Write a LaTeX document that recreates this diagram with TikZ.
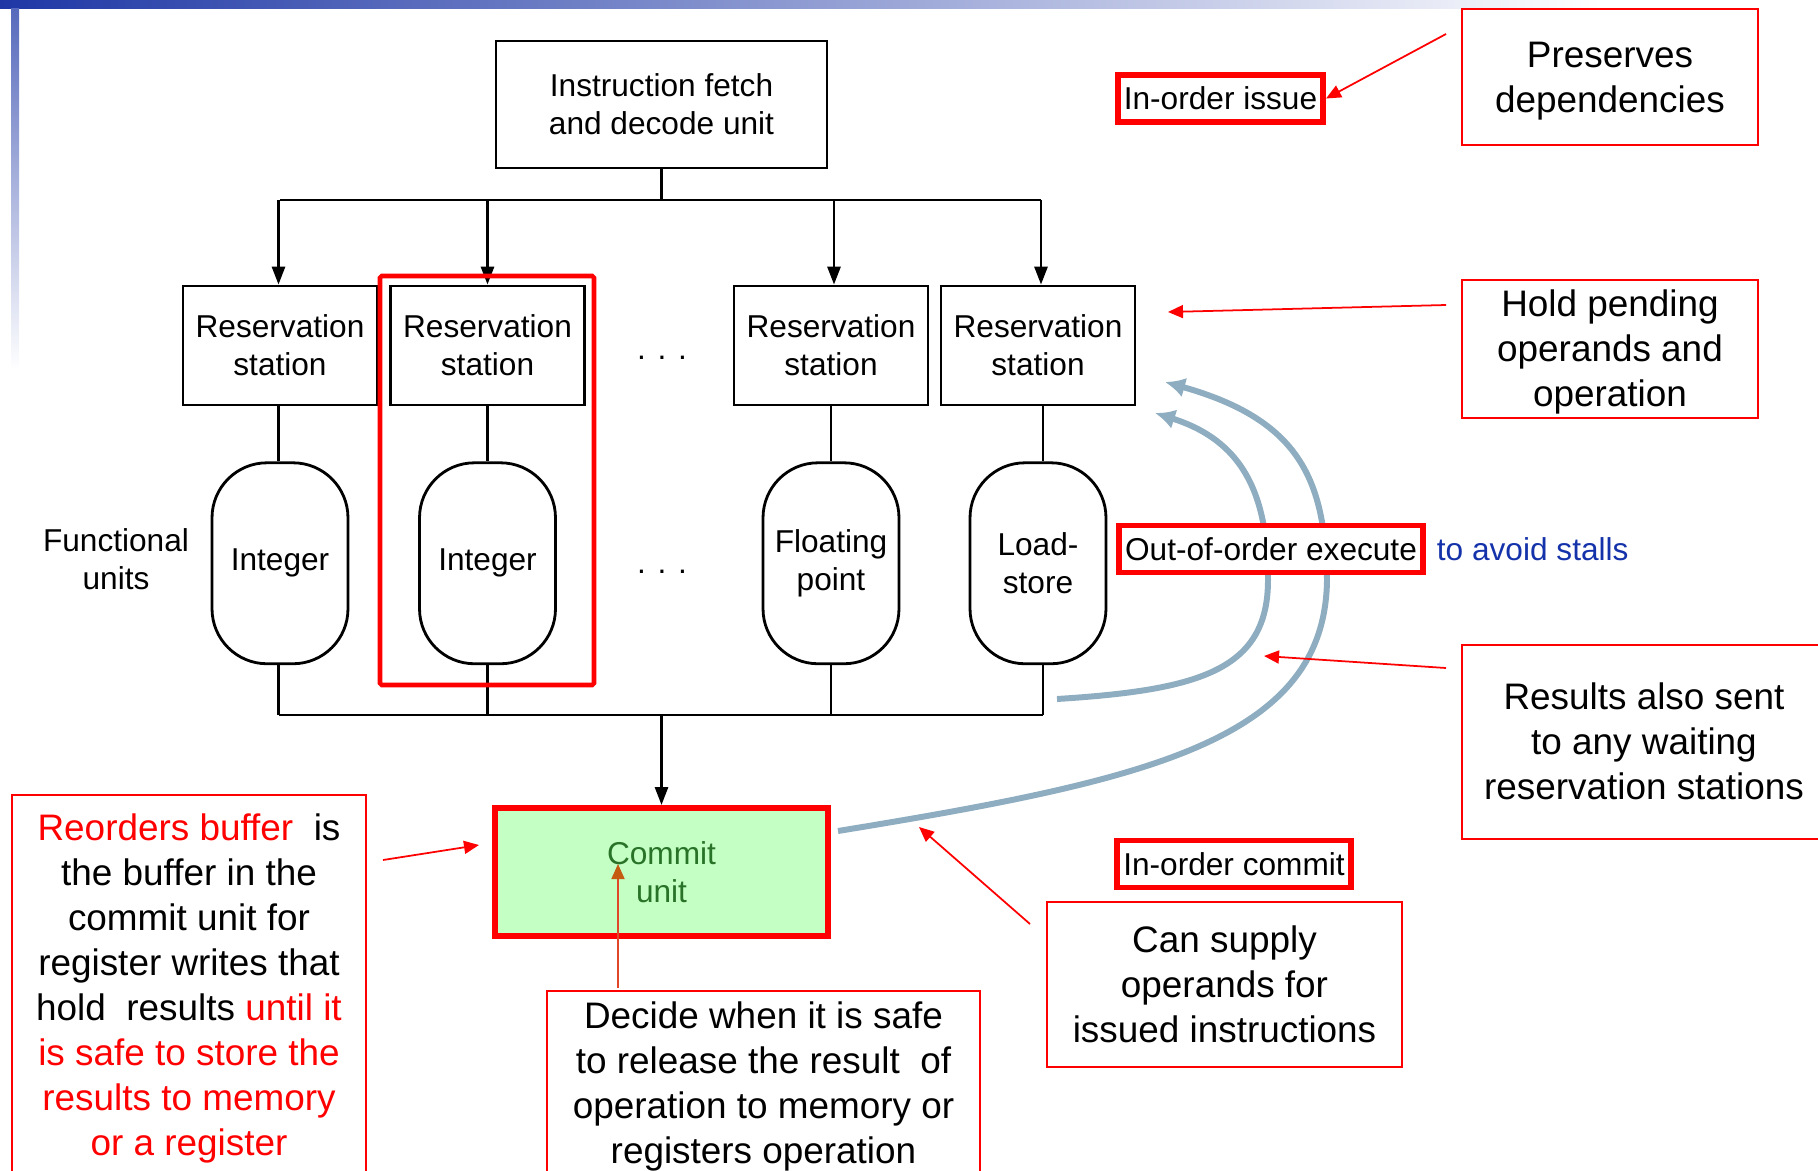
\documentclass[tikz,border=0pt]{standalone}
\usepackage{fontspec}
\setmainfont{Liberation Sans}
\usepackage{xcolor}
\usepackage{tikz}
\usetikzlibrary{arrows.meta,positioning,calc}
\definecolor{fwdblue}{RGB}{143,173,192}
\definecolor{barblue}{RGB}{30,55,165}
\definecolor{commitfill}{RGB}{196,255,196}
\definecolor{commitgreen}{RGB}{40,115,40}
\definecolor{stallblue}{RGB}{20,50,170}
\definecolor{tipbrown}{RGB}{197,90,17}
\definecolor{decidered}{RGB}{225,70,40}
\newcommand{\diagfont}{\fontsize{18}{21.6}\selectfont}
\newcommand{\notefont}{\fontsize{21}{25.6}\selectfont}
\newcommand{\notetop}{\rule{0pt}{0.905em}}
\tikzset{
  unit/.style={draw, line width=1.6pt, align=center, font=\diagfont, inner sep=2pt},
  rsbox/.style={unit, minimum width=3.88cm, minimum height=2.38cm},
  fubox/.style={unit, rounded corners=1.1cm, minimum width=2.72cm, minimum height=4.02cm},
  tag/.style={draw=red, line width=3.2pt, fill=white, font=\diagfont,
              inner xsep=1.2mm, inner ysep=0pt, minimum height=0.94cm},
  notebox/.style={draw=red, line width=1.2pt, align=center, font=\notefont, inner sep=2pt,
                  execute at end node={\rule[-0.212em]{0pt}{0pt}}},
  wire/.style={line width=1.6pt},
  flow/.style={wire, -{Triangle[length=3.6mm, width=2.6mm]}},
  note/.style={red, line width=1pt, -{Triangle[length=3mm, width=2.6mm]}},
  fwd/.style={fwdblue, line width=3.4pt, -{Latex[length=4mm, width=4mm]}},
}

\begin{document}
\begin{tikzpicture}[x=0.02cm, y=-0.02cm, node distance=1.1cm]
  \useasboundingbox (0,0) rectangle (1818,1170);
  % slide decoration
  \shade[left color=barblue, right color=white] (0,0) rectangle (1600,8);
  \shade[top color=barblue!75, bottom color=white] (11,8) rectangle (19,370);

  % issue and execution units
  \node[unit, minimum width=6.62cm, minimum height=2.54cm] (fetch) at (661.5,104.5)
       {Instruction fetch\\and decode unit};
  \node[rsbox] (rs1) at (280,345.5) {Reservation\\station};
  \node[rsbox] (rs2) at (487.5,345.5) {Reservation\\station};
  \node[rsbox] (rs3) at (831,345.5) {Reservation\\station};
  \node[rsbox] (rs4) at (1038,345.5) {Reservation\\station};
  \node[fubox, below=of rs1] (fu1) {Integer};
  \node[fubox, below=of rs2] (fu2) {Integer};
  \node[fubox, below=of rs3] (fu3) {Floating\\point};
  \node[fubox, below=of rs4] (fu4) {Load-\\store};
  \node[font=\diagfont] (dotsrs) at (662,358) {. . .};
  \node[font=\diagfont] (dotsfu) at (662,572) {. . .};
  \node[font=\diagfont, align=center] (fulabel) at (116,559) {Functional\\units};
  \node[unit, draw=red, line width=3.4pt, fill=commitfill, text=commitgreen,
        minimum width=6.66cm, minimum height=2.56cm] (commit) at (661.5,872) {Commit\\unit};

  \coordinate (topbus) at (661.5,200);
  \coordinate (botbus) at (661.5,715);
  \draw[wire] (fetch.south) -- (topbus);
  \draw[wire] (rs1.north |- topbus) -- ([xshift=0.06cm]rs4.north |- topbus);
  \foreach \n/\dx in {1/-0.03,2/0,3/0.06,4/0.06}
    \draw[flow] ([xshift=\dx cm]rs\n.north |- topbus) -- ([xshift=\dx cm]rs\n.north);
  \foreach \n/\dx in {1/-0.03,2/0,3/0,4/0.1} {
    \draw[wire] ([xshift=\dx cm]rs\n.south) -- ([xshift=\dx cm]fu\n.north);
    \draw[wire] ([xshift=\dx cm]fu\n.south) -- ([xshift=\dx cm]fu\n.south |- botbus);
  }
  \draw[wire] ([xshift=-0.03cm]fu1.south |- botbus) -- ([xshift=0.1cm]fu4.south |- botbus);
  \draw[flow] (botbus) -- (commit.north);

  % highlighted unit
  \draw[red, line width=2.6pt, rounded corners=1pt] (380,276) rectangle (594,685);

  % forwarding paths
  \coordinate (fwdfu) at (1057,699);
  \coordinate (fwdfuend) at (1155,413);
  \coordinate (fwdcm) at (838,831);
  \coordinate (fwdcmend) at (1165,382);
  \draw[fwd] (fwdfu) .. controls (1200,690) and (1268,670) .. (1268,580)
             .. controls (1268,490) and (1240,440) .. (fwdfuend);
  \draw[fwd] (fwdcm) .. controls (1150,780) and (1325,740) .. (1327,580)
             .. controls (1325,480) and (1300,420) .. (fwdcmend);

  % tags
  \node[tag] (issue) at (1220.5,98.5) {In-order issue};
  \node[tag] (execute) at (1271,549) {Out-of-order execute};
  \node[font=\diagfont, text=stallblue, right=1mm of execute] (stalls) {to avoid stalls};
  \node[tag] (inorder) at (1234,864) {In-order commit};

  % notes
  \node[notebox, minimum width=5.92cm, minimum height=2.72cm] (preserve) at (1610,77)
       {\notetop Preserves\\dependencies};
  \node[notebox, minimum width=5.92cm, minimum height=2.72cm] (pending) at (1610,349)
       {\notetop Hold pending\\operands and\\operation};
  \node[notebox, minimum width=7.28cm, minimum height=3.88cm] (results) at (1644,742)
       {\notetop Results also sent\\to any waiting\\reservation stations};
  \node[notebox, minimum width=7.1cm, minimum height=3.3cm] (supply) at (1224.5,984.5)
       {\notetop Can supply\\operands for\\issued instructions};
  \node[notebox, minimum width=7.08cm, minimum height=7.6cm] (reorder) at (189,985)
       {\notetop\textcolor{red}{Reorders buffer}~ is\\the buffer in the\\commit unit for\\register writes that\\
        hold~ results \textcolor{red}{until it}\\\textcolor{red}{is safe to store the}\\
        \textcolor{red}{results to memory}\\\textcolor{red}{or a register}};
  \node[notebox, minimum width=8.66cm, minimum height=3.7cm] (decide) at (763.5,1083.5)
       {\notetop Decide when it is safe\\to release the result~ of\\operation to memory or\\registers operation};

  % pointers
  \coordinate (preservetail) at (1446,34);
  \coordinate (pendingtail) at (1446,305);
  \coordinate (pendinghead) at (1168,312);
  \coordinate (resultstail) at (1446,668);
  \coordinate (resultshead) at (1264,656);
  \coordinate (supplytail) at (1030,924);
  \coordinate (supplyhead) at (919,827);
  \coordinate (reordertail) at (383,860);
  \coordinate (reorderhead) at (479,845);
  \coordinate (decidetail) at (618,988);
  \coordinate (decidehead) at (618,864);
  \draw[note] (preservetail) -- (issue.east);
  \draw[note] (pendingtail) -- (pendinghead);
  \draw[note] (resultstail) -- (resultshead);
  \draw[note] (supplytail) -- (supplyhead);
  \draw[note] (reordertail) -- (reorderhead);
  \draw[decidered, line width=1pt, -{Triangle[length=3mm, width=2.6mm, color=tipbrown]}]
       (decidetail) -- (decidehead);
\end{tikzpicture}
\end{document}
